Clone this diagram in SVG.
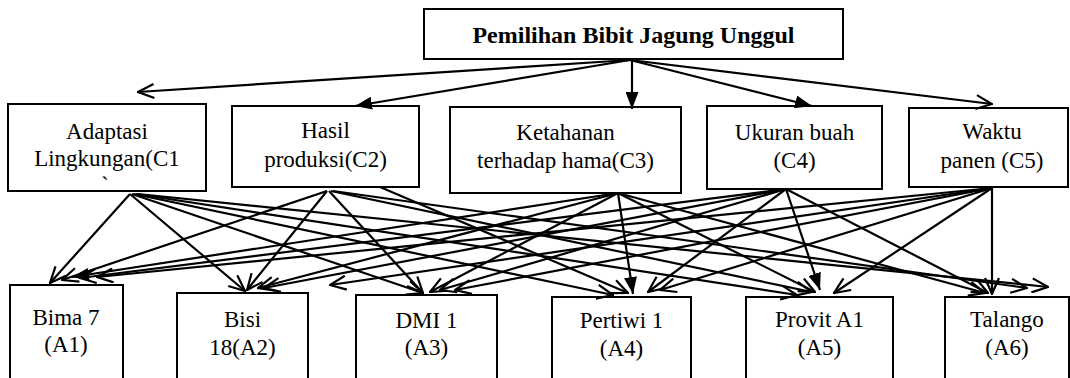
<svg xmlns="http://www.w3.org/2000/svg" width="1070" height="378" viewBox="0 0 1070 378" font-family="'Liberation Serif', 'Times New Roman', 'DejaVu Serif', serif">
<style>
.box{fill:#fff;stroke:#000;stroke-width:2}
.t{font-family:'Liberation Serif','Times New Roman','DejaVu Serif',serif;font-size:23px;fill:#000;text-anchor:middle}
.title{font-family:'Liberation Serif','Times New Roman','DejaVu Serif',serif;font-size:24px;font-weight:bold;fill:#000;text-anchor:middle}
.ln{fill:none;stroke:#000;stroke-width:2.2}
.o{marker-end:url(#open)}
.f{marker-end:url(#fill)}
</style>
<defs>
<marker id="open" viewBox="0 0 18 16" refX="17" refY="8" markerWidth="18" markerHeight="16" markerUnits="userSpaceOnUse" orient="auto"><path d="M1,1 L17,8 L1,15" fill="none" stroke="#000" stroke-width="2.2"/></marker>
<marker id="fill" viewBox="0 0 17 13" refX="17" refY="6.5" markerWidth="17" markerHeight="13" markerUnits="userSpaceOnUse" orient="auto"><path d="M0,0 L17,6.5 L0,13 z" fill="#000"/></marker>
</defs>
<rect width="1070" height="378" fill="#fff"/>
<g id="goal"><rect class="box" x="424" y="9" width="419" height="50"/><text class="title" x="633.5" y="43">Pemilihan Bibit Jagung Unggul</text></g>
<g id="C1"><rect class="box" x="8" y="104" width="198" height="87"/><text class="t" x="107" y="139">Adaptasi</text><text class="t" x="107" y="166">Lingkungan(C1</text><text class="t" x="105" y="193">`</text></g>
<g id="C2"><rect class="box" x="232" y="106" width="187" height="81"/><text class="t" x="325.5" y="138">Hasil</text><text class="t" x="325.5" y="167">produksi(C2)</text></g>
<g id="C3"><rect class="box" x="450" y="107" width="231" height="86"/><text class="t" x="565.5" y="140">Ketahanan</text><text class="t" x="565.5" y="168">terhadap hama(C3)</text></g>
<g id="C4"><rect class="box" x="707" y="106" width="175" height="83"/><text class="t" x="794.5" y="140">Ukuran buah</text><text class="t" x="794.5" y="168">(C4)</text></g>
<g id="C5"><rect class="box" x="909" y="108" width="159" height="79"/><text class="t" x="992" y="139">Waktu</text><text class="t" x="992" y="168">panen (C5)</text></g>
<g id="A1"><rect class="box" x="10" y="285" width="113" height="110"/><text class="t" x="66" y="325">Bima 7</text><text class="t" x="66" y="352">(A1)</text></g>
<g id="A2"><rect class="box" x="177" y="293" width="131" height="100"/><text class="t" x="242.5" y="327">Bisi</text><text class="t" x="242.5" y="355">18(A2)</text></g>
<g id="A3"><rect class="box" x="356" y="295" width="141" height="100"/><text class="t" x="426.5" y="328">DMI 1</text><text class="t" x="426.5" y="355">(A3)</text></g>
<g id="A4"><rect class="box" x="552" y="297" width="139" height="100"/><text class="t" x="621.5" y="328">Pertiwi 1</text><text class="t" x="621.5" y="356">(A4)</text></g>
<g id="A5"><rect class="box" x="746" y="297" width="147" height="100"/><text class="t" x="819.5" y="327">Provit A1</text><text class="t" x="819.5" y="355">(A5)</text></g>
<g id="A6"><rect class="box" x="945" y="297" width="124" height="100"/><text class="t" x="1007" y="327">Talango</text><text class="t" x="1007" y="355">(A6)</text></g>
<g id="connectors">
<line class="ln o" x1="630" y1="60" x2="138" y2="92"/>
<line class="ln f" x1="630" y1="60" x2="355" y2="106"/>
<line class="ln f" x1="632" y1="60" x2="632" y2="109"/>
<line class="ln f" x1="630" y1="60" x2="812" y2="106"/>
<line class="ln o" x1="630" y1="60" x2="992" y2="104"/>

<line class="ln o" x1="130" y1="194" x2="50" y2="283"/>
<line class="ln o" x1="130" y1="194" x2="245" y2="291"/>
<line class="ln o" x1="132" y1="194" x2="423" y2="293"/>
<line class="ln o" x1="134" y1="194" x2="613" y2="295"/>
<line class="ln o" x1="136" y1="194" x2="797" y2="295"/>
<line class="ln o" x1="138" y1="194" x2="1048" y2="287"/>

<line class="ln o" x1="327" y1="191" x2="62" y2="280"/>
<line class="ln o" x1="327" y1="191" x2="247" y2="290"/>
<line class="ln o" x1="329" y1="191" x2="423" y2="293"/>
<line class="ln o" x1="380" y1="187" x2="628" y2="293"/>
<line class="ln o" x1="331" y1="191" x2="812" y2="292"/>
<line class="ln o" x1="333" y1="191" x2="1027" y2="288"/>

<line class="ln f" x1="618" y1="193" x2="72" y2="277"/>
<line class="ln o" x1="618" y1="193" x2="258" y2="288"/>
<line class="ln o" x1="618" y1="193" x2="430" y2="292"/>
<line class="ln f" x1="618" y1="193" x2="633" y2="294"/>
<line class="ln o" x1="618" y1="193" x2="815" y2="292"/>
<line class="ln o" x1="618" y1="193" x2="985" y2="293"/>

<line class="ln o" x1="786" y1="189" x2="80" y2="278"/>
<line class="ln o" x1="786" y1="189" x2="264" y2="288"/>
<line class="ln o" x1="786" y1="189" x2="440" y2="290"/>
<line class="ln o" x1="786" y1="189" x2="648" y2="292"/>
<line class="ln f" x1="786" y1="189" x2="820" y2="290"/>
<line class="ln o" x1="786" y1="189" x2="988" y2="293"/>

<line class="ln o" x1="992" y1="188" x2="97" y2="277"/>
<line class="ln o" x1="992" y1="188" x2="330" y2="285"/>
<line class="ln o" x1="992" y1="188" x2="455" y2="290"/>
<line class="ln o" x1="992" y1="188" x2="660" y2="290"/>
<line class="ln o" x1="992" y1="188" x2="834" y2="293"/>
<line class="ln o" x1="992" y1="188" x2="992" y2="294"/>
</g>
</svg>
